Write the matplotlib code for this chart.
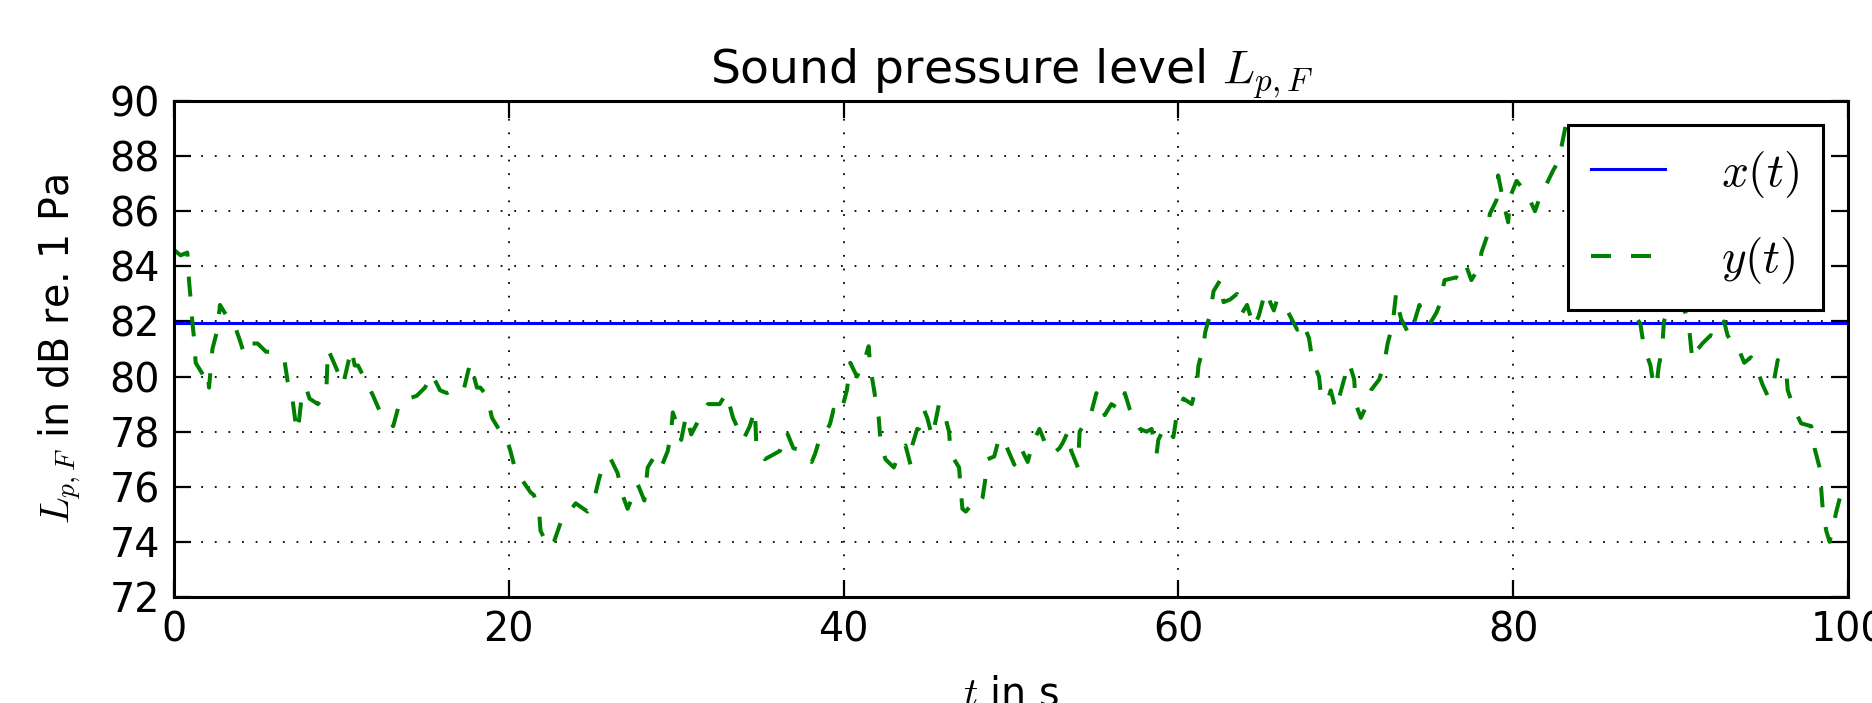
import numpy as np
import matplotlib
matplotlib.use("Agg")
import matplotlib.pyplot as plt

# sound pressure level over time
t = [0.0, 0.4, 0.8, 0.9, 1.0, 1.1, 1.2, 1.3, 1.8, 2.0, 2.1, 2.3, 2.6, 2.75, 3.35,
     3.6, 3.95, 4.2, 4.6, 5.0, 5.5, 5.8, 6.6, 6.8, 7.1, 7.25, 7.4, 7.6, 7.9, 8.1,
     8.6, 9.1, 9.2, 9.7, 10.1, 10.6, 10.8, 11.0, 11.9, 12.4, 13.1, 13.5, 14.5, 15.0,
     15.4, 15.9, 16.3, 16.9, 17.3, 17.7, 18.1, 18.3, 18.7, 19.0, 19.4, 19.8, 20.1,
     20.4, 21.3, 21.5, 21.8, 21.9, 22.4, 22.7, 23.1, 23.5, 24.0, 24.7, 25.0, 25.4,
     25.7, 26.1, 26.5, 26.8, 27.1, 27.3, 27.7, 28.1, 28.3, 28.7, 29.1, 29.5, 29.7,
     29.8, 30.2, 30.3, 30.6, 30.9, 31.5, 31.9, 32.6, 33.0, 33.4, 34.0, 34.4, 34.7,
     34.8, 35.3, 35.9, 36.2, 36.4, 36.6, 37.0, 37.6, 38.1, 38.3, 38.6, 38.9, 39.2,
     39.4, 39.8, 40.2, 40.4, 40.8, 41.2, 41.5, 41.6, 41.8, 41.9, 42.1, 42.2, 42.5,
     43.0, 43.4, 43.7, 44.0, 44.1, 44.4, 44.5, 44.8, 45.0, 45.3, 45.5, 45.7, 46.0,
     46.3, 46.4, 46.9, 47.0, 47.1, 47.3, 47.7, 48.0, 48.3, 48.5, 48.6, 49.0, 49.3,
     49.7, 50.2, 50.6, 51.0, 51.3, 51.7, 52.1, 52.5, 52.9, 53.1, 53.4, 53.6, 54.0,
     54.1, 54.5, 54.8, 55.1, 55.3, 55.6, 56.0, 56.5, 56.8, 57.1, 57.3, 57.7, 58.1,
     58.4, 58.7, 58.8, 59.2, 59.7, 59.9, 60.3, 60.8, 61.1, 61.2, 61.5, 61.6, 61.9,
     62.1, 62.5, 62.7, 63.1, 63.5, 63.8, 64.1, 64.5, 64.8, 65.2, 65.7, 65.9, 66.4,
     66.5, 67.1, 67.4, 67.8, 68.0, 68.4, 68.5, 68.9, 69.1, 69.4, 69.9, 70.2, 70.5,
     70.6, 70.9, 71.2, 71.5, 72.0, 72.3, 72.5, 72.8, 73.0, 73.1, 73.3, 73.8, 74.1,
     74.4, 74.5, 75.0, 75.4, 75.6, 75.9, 76.6, 76.9, 77.2, 77.5, 78.0, 78.1, 78.5,
     78.6, 79.0, 79.1, 79.3, 79.5, 79.7, 79.8, 80.2, 80.6, 81.0, 81.3, 81.7, 82.0,
     82.4, 82.7, 83.2, 83.6, 84.2, 84.8, 85.4, 86.0, 86.5, 86.9, 87.1, 87.6, 87.8,
     88.2, 88.4, 88.6, 88.7, 88.9, 89.0, 89.2, 89.6, 90.0, 90.3, 90.5, 90.7, 90.9,
     91.3, 91.8, 92.1, 92.4, 92.6, 92.8, 93.1, 93.4, 93.8, 94.2, 94.6, 94.9, 95.2,
     95.5, 95.8, 96.3, 96.4, 96.8, 97.2, 97.8, 98.0, 98.3, 98.4, 98.5, 98.7, 98.9,
     99.3, 99.6, 100.0]
y_level = [84.6, 84.4, 84.5, 83.5, 82.8, 82.0, 81.4, 80.5, 80.0, 80.2, 79.6, 81.0,
           81.7, 82.6, 82.0, 81.9, 81.3, 80.8, 81.2, 81.2, 80.9, 80.9, 80.6, 79.8,
           79.1, 78.4, 78.0, 79.1, 79.6, 79.2, 79.0, 79.4, 81.0, 80.3, 79.7, 81.0,
           80.4, 80.4, 79.3, 78.6, 78.2, 79.1, 79.3, 79.6, 80.1, 79.5, 79.4, 79.6,
           79.5, 80.5, 79.6, 79.6, 79.3, 78.5, 78.1, 77.9, 77.3, 76.6, 75.8, 75.7,
           75.2, 74.4, 73.8, 74.0, 74.7, 75.0, 75.4, 75.1, 75.3, 76.3, 76.9, 77.0,
           76.5, 75.7, 75.2, 75.5, 76.1, 75.5, 76.7, 77.1, 76.7, 77.3, 78.0, 78.7,
           78.0, 77.7, 78.6, 77.9, 78.6, 79.0, 79.0, 79.4, 78.5, 77.7, 78.2, 78.8,
           77.4, 77.0, 77.2, 77.3, 77.7, 78.0, 77.4, 77.3, 76.9, 77.2, 77.8, 77.9,
           78.3, 78.8, 78.6, 79.5, 80.5, 80.0, 80.5, 81.1, 80.3, 79.6, 79.2, 78.5,
           77.7, 77.0, 76.7, 77.3, 77.5, 76.8, 77.5, 78.1, 78.1, 78.8, 78.5, 77.8,
           78.4, 79.0, 78.7, 78.0, 77.2, 76.7, 75.9, 75.2, 75.1, 75.4, 75.3, 75.6,
           76.4, 77.0, 77.1, 77.8, 77.5, 76.8, 77.4, 76.9, 77.6, 78.1, 77.5, 77.2,
           77.4, 77.6, 78.0, 77.3, 76.7, 78.0, 78.4, 78.7, 79.4, 79.1, 78.6, 79.0,
           78.8, 79.4, 78.8, 78.5, 78.1, 78.0, 78.1, 77.2, 77.7, 78.2, 77.8, 78.6,
           79.2, 79.0, 79.7, 80.4, 81.1, 81.6, 82.3, 83.1, 83.5, 82.7, 82.8, 83.0,
           82.3, 82.6, 81.8, 82.2, 83.1, 82.4, 82.8, 82.5, 82.4, 81.7, 82.0, 81.4,
           80.6, 80.0, 79.4, 79.1, 79.5, 78.8, 79.9, 80.5, 79.9, 79.0, 78.5, 78.9,
           79.5, 79.9, 80.5, 81.2, 81.9, 83.0, 82.6, 82.1, 81.5, 82.0, 82.6, 82.4,
           81.9, 82.3, 82.6, 83.5, 83.6, 83.5, 84.0, 83.5, 84.0, 84.5, 85.2, 85.9,
           86.4, 87.3, 86.7, 86.1, 85.6, 86.5, 87.1, 86.8, 86.4, 86.0, 86.7, 87.0,
           87.5, 87.8, 89.3, 88.6, 88.0, 87.3, 86.2, 85.0, 83.8, 82.9, 82.4, 81.9,
           81.1, 80.4, 79.6, 79.9, 80.4, 81.0, 82.0, 82.3, 82.8, 82.6, 82.3, 81.8,
           80.6, 80.9, 81.2, 81.5, 81.4, 81.8, 82.0, 81.5, 81.2, 81.1, 80.5, 80.7,
           80.2, 79.7, 79.3, 79.6, 80.6, 80.2, 79.5, 78.8, 78.3, 78.2, 77.4, 76.7,
           75.9, 75.1, 74.4, 74.0, 75.1, 75.8, 76.2]
x_level = 81.93  # constant reference level

plt.rcParams['mathtext.fontset'] = 'cm'
plt.rcParams['lines.scale_dashes'] = False

fig, ax = plt.subplots(figsize=(18.72, 7.03), dpi=100)
fig.subplots_adjust(left=0.0929, right=0.9872, bottom=0.1508, top=0.8563)

ax.plot([0, 100], [x_level, x_level], color='#0000ff', linewidth=2.2, label='$x(t)$')
ax.plot(t, y_level, color='#008000', linewidth=2.9, dashes=(14.4, 14.4), label='$y(t)$')

ax.set_xlim(0, 100)
ax.set_ylim(72, 90)
ax.set_xticks(np.arange(0, 101, 20))
ax.set_yticks(np.arange(72, 91, 2))
ax.grid(True, color='black', linewidth=1.3, linestyle=(0, (1.3, 8.5)))
ax.tick_params(direction='in', length=12, width=1.6, labelsize=28.5, pad=10,
               top=True, right=True)
for s in ax.spines.values():
    s.set_linewidth(2.2)

ax.set_title('Sound pressure level $L_{p,F}$', fontsize=34, pad=12)
ax.set_xlabel('$t$ in s', fontsize=28.5, labelpad=17)
ax.set_ylabel('$L_{p,F}$ in dB re. 1 Pa', fontsize=28.5, labelpad=19)

leg = ax.legend(loc='upper right', bbox_to_anchor=(0.985, 0.9516), borderaxespad=0,
                fontsize=34, handlelength=1.55, handletextpad=1.2, labelspacing=0.75,
                borderpad=0.5, fancybox=False, framealpha=1)
leg.get_frame().set_edgecolor('black')
leg.get_frame().set_linewidth(2.2)

fig.savefig('out.png', dpi=100)
